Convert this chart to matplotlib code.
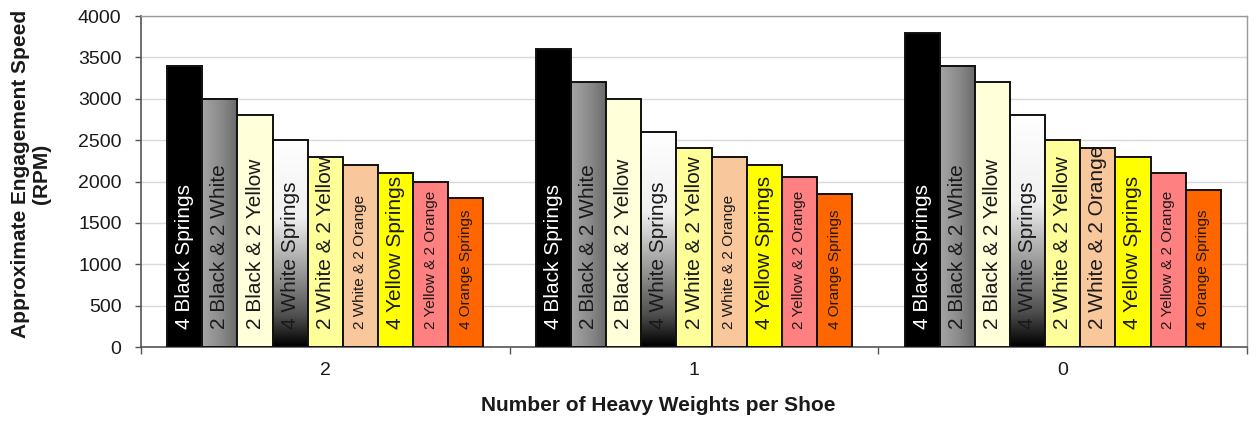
import numpy as np
import matplotlib
matplotlib.use("Agg")
import matplotlib.pyplot as plt
from matplotlib.colors import LinearSegmentedColormap

# Heavy weights per shoe (x categories) and spring combinations (bars)
groups = ["2", "1", "0"]
springs = [
    "4 Black Springs",
    "2 Black & 2 White",
    "2 Black & 2 Yellow",
    "4 White Springs",
    "2 White & 2 Yellow",
    "2 White & 2 Orange",
    "4 Yellow Springs",
    "2 Yellow & 2 Orange",
    "4 Orange Springs",
]
# Approximate engagement speed (RPM) for each group, in spring order
rpm_2 = [3400, 3000, 2800, 2500, 2300, 2200, 2100, 2000, 1800]
rpm_1 = [3600, 3200, 3000, 2600, 2400, 2300, 2200, 2050, 1850]
rpm_0 = [3800, 3400, 3200, 2800, 2500, 2400, 2300, 2100, 1900]
values = [rpm_2, rpm_1, rpm_0]
y_ticks = [0, 500, 1000, 1500, 2000, 2500, 3000, 3500, 4000]

# Styling
fills = ["#000000", None, "#FFFFD9", None, "#FFFF99", "#F9C79C",
         "#FFFF00", "#FF8080", "#FF6600"]
text_colors = ["white"] + ["#1a1a1a"] * 8
big, small = 15, 11
label_size = [
    [big, big, big, big, big, small, big, small, small],
    [big, big, big, big, big, small, big, small, small],
    [big, big, big, big, big, big, big, small, small],
]

plt.rcParams["font.family"] = ["Liberation Sans", "DejaVu Sans"]

fig = plt.figure(figsize=(12.57, 4.23), dpi=100)
ax = fig.add_axes([141 / 1257, 1 - 347 / 423, 1106 / 1257, 331 / 423])

n = len(springs)
bw = 0.0953
offsets = (np.arange(n) - (n - 1) / 2) * bw

gray_cmap = LinearSegmentedColormap.from_list(
    "grayfade", ["#a4a4a4", "#8c8c8c", "#6a6a6a"])
white_cmap = LinearSegmentedColormap.from_list(
    "whitefade", [(0.0, "#000000"), (0.05, "#1a1a1a"), (0.15, "#505050"),
                  (0.37, "#9c9c9c"), (0.63, "#f0f0f0"), (1.0, "#ffffff")])

for gi, g in enumerate(groups):
    for si in range(n):
        v = values[gi][si]
        x = gi + offsets[si]
        fc = fills[si] if fills[si] is not None else "none"
        ax.bar(x, v, width=bw, color=fc, edgecolor="#111111",
               linewidth=1.4, zorder=3)
        x0, x1 = x - bw / 2, x + bw / 2
        if si == 1:
            grad = np.linspace(0, 1, 64).reshape(1, -1)
            ax.imshow(grad, cmap=gray_cmap, aspect="auto",
                      extent=(x0, x1, 0, v), origin="lower", zorder=2.5)
        elif si == 3:
            grad = np.linspace(0, 1, 128).reshape(-1, 1)
            ax.imshow(grad, cmap=white_cmap, aspect="auto",
                      extent=(x0, x1, 0, v), origin="lower", zorder=2.5)
        ax.annotate(springs[si], xy=(x, 0), xytext=(0, 13),
                    textcoords="offset points", rotation=90,
                    ha="center", va="bottom", fontsize=label_size[gi][si],
                    color=text_colors[si], zorder=5)

ax.set_xlim(-0.5, 2.5)
ax.set_ylim(0, 4000)
ax.set_yticks(y_ticks)
ax.tick_params(axis="y", labelsize=14, length=4, width=1, color="#555555",
               pad=10, labelcolor="#1a1a1a")
ax.set_xticks([-0.5, 0.5, 1.5, 2.5])
ax.set_xticklabels([])
ax.set_xticks([0, 1, 2], minor=True)
ax.set_xticklabels(groups, minor=True)
ax.tick_params(axis="x", which="major", length=5, width=1, color="#555555")
ax.tick_params(axis="x", which="minor", length=0, labelsize=14, pad=11,
               labelcolor="#1a1a1a")

ax.yaxis.grid(True, color="#d9d9d9", linewidth=1, zorder=0)
ax.set_axisbelow(True)
for side in ["left", "bottom"]:
    ax.spines[side].set_color("#555555")
    ax.spines[side].set_linewidth(1.2)
for side in ["top", "right"]:
    ax.spines[side].set_color("#9a9a9a")
    ax.spines[side].set_linewidth(1)

fig.text(31 / 1257, 1 - 174 / 423, "Approximate Engagement Speed\n(RPM)",
         rotation=90, ha="center", va="center", ma="center",
         fontsize=15, fontweight="bold", linespacing=1.15, color="#1a1a1a")
fig.text(658 / 1257, 1 - 405 / 423, "Number of Heavy Weights per Shoe",
         ha="center", va="center", fontsize=15, fontweight="bold",
         color="#1a1a1a")

fig.savefig("out.png", dpi=100)
